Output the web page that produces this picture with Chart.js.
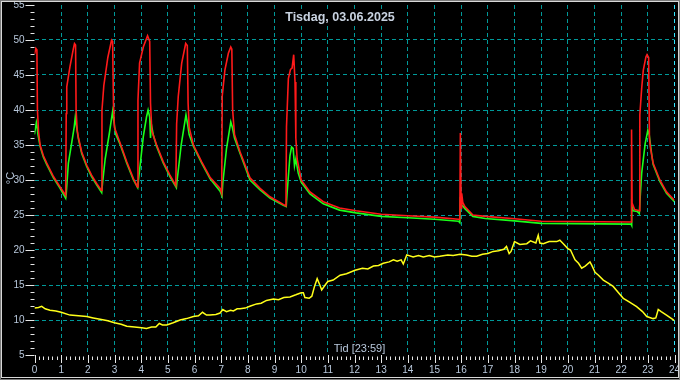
<!DOCTYPE html>
<html><head><meta charset="utf-8">
<script src="https://cdn.jsdelivr.net/npm/chart.js@4.4.0/dist/chart.umd.min.js"></script>
<style>html,body{margin:0;padding:0;background:#000;}canvas{display:block;background:#000;}</style>
</head><body>
<canvas id="c" width="680" height="380"></canvas>
<script>
// ---- data (hours, °C) ----
const titleText = 'Tisdag, 03.06.2025';
const xTitle = 'Tid [23:59]';
const yTitle = '°C';
const xTicks = [0,1,2,3,4,5,6,7,8,9,10,11,12,13,14,15,16,17,18,19,20,21,22,23,24];
const yTicks = [5,10,15,20,25,30,35,40,45,50,55];

const redT = [0,0.05,0.09,0.11,0.15,0.21,0.33,0.46,0.71,0.96,1.17,
 1.19,1.21,1.33,1.46,1.5,1.54,1.56,1.6,1.64,1.77,1.96,2.14,2.33,2.51,
 2.53,2.6,2.75,2.89,2.93,2.96,3.0,3.2,3.46,3.71,3.86,
 3.88,3.94,4.08,4.24,4.32,4.35,4.4,4.58,4.83,5.08,5.3,
 5.33,5.39,5.52,5.67,5.73,5.76,5.8,5.96,6.27,6.58,6.96,7.02,
 7.04,7.14,7.27,7.36,7.4,7.43,7.5,7.71,8.08,8.46,8.83,9.33,9.43,
 9.45,9.52,9.6,9.66,9.72,9.77,9.8,9.85,10.0,10.33,10.83,11.44,12.06,13,14,15,15.9,15.95,
 15.97,16.0,16.02,16.06,16.14,16.44,16.9,17.9,19,22.37,
 22.39,22.41,22.5,22.68,22.7,22.77,22.83,22.93,22.97,23.03,23.06,23.1,23.2,23.45,23.7,24];
const redV = [48.0,48.8,48.6,40,37,35,33.5,32.4,30.5,29.0,27.8,
 39.5,43.3,46.2,48.8,49.5,49.3,40,37.2,36.2,34.0,32.1,30.7,29.5,28.5,
 40,43.5,47.5,50.0,49.8,41,37.5,35.4,32.6,30.2,29.0,
 41.4,46.7,49.0,50.6,49.8,41,37,35.0,32.6,30.7,29.2,
 38,41.9,46.7,49.5,49.2,41,37.5,35.0,32.6,30.4,28.8,28.1,
 42,45.7,48.1,49.0,48.7,40,36.5,34.0,30.3,28.8,27.6,26.5,26.3,
 37.6,44.5,45.8,46.0,47.9,44,36,33,30.0,28.3,26.9,26.0,25.6,25.1,24.9,24.7,24.4,24.4,
 36.7,26,28.1,26.8,26.2,25.0,24.8,24.5,24.1,24.0,
 37.2,26.7,25.8,25.6,39.3,43.1,45.7,47.6,47.9,47.5,36,34.5,32.4,30.0,28.3,27.1];

const greenT = [0,0.04,0.07,0.1,0.13,0.21,0.33,0.46,0.71,0.96,1.17,
 1.19,1.27,1.39,1.49,1.53,1.56,1.64,1.77,1.96,2.14,2.33,2.52,
 2.55,2.65,2.8,2.93,2.97,3.05,3.2,3.46,3.71,3.87,
 3.9,4.08,4.2,4.26,4.32,4.35,4.38,4.45,4.58,4.83,5.08,5.32,
 5.35,5.5,5.68,5.74,5.8,5.96,6.27,6.58,6.96,7.03,
 7.06,7.2,7.36,7.42,7.5,7.71,8.08,8.46,8.83,9.33,9.44,
 9.47,9.58,9.64,9.7,9.75,9.8,9.89,10.0,10.33,10.83,11.44,12.06,13,14,15,15.9,15.95,
 15.97,16.0,16.06,16.14,16.44,16.9,17.9,19,22.37,22.39,
 22.4,22.45,22.6,22.68,22.72,22.77,22.9,23.0,23.05,23.15,23.2,23.45,23.7,24];
const greenV = [36.5,37.5,38.2,37.5,36.5,34.8,33.3,32.2,30.3,28.8,27.4,
 28,32.4,35.2,37.6,39.0,38,36.0,33.8,31.9,30.5,29.3,28.2,
 29.5,33,36.5,39.8,38.5,36.5,35.2,32.4,30.0,28.9,
 30,36.2,39,40.0,39,36,38,36.5,34.8,32.4,30.5,28.9,
 30,35,39.3,38,36.5,34.8,32.4,30.2,28.4,27.7,
 29.5,34.5,38.3,37.5,36,33.8,30.0,28.6,27.4,26.4,26.2,
 28,33.5,34.7,34.5,32,33,31.0,29.7,28.0,26.6,25.7,25.3,24.8,24.6,24.4,24.1,23.9,
 27.6,26.5,26.3,25.9,24.8,24.5,24.2,23.8,23.7,23.5,
 26.4,25.6,25.5,25.2,28,31.0,35.2,37.1,36.5,33.5,32.2,29.8,28.1,26.9];

const yellowT = [0,0.15,0.27,0.4,0.58,0.8,1,1.33,1.65,1.96,2.2,2.46,2.75,3,3.25,3.46,3.75,4.02,4.2,4.39,4.55,4.68,4.8,4.96,
 5.2,5.46,5.7,5.96,6.15,6.3,6.45,6.58,6.8,6.96,7.06,7.2,7.35,7.46,7.6,7.71,7.9,8.1,8.33,8.5,8.7,8.96,9.15,9.35,9.58,9.8,
 10.0,10.08,10.14,10.3,10.4,10.5,10.6,10.7,10.77,10.9,11.0,11.2,11.46,11.7,12.02,12.3,12.5,12.71,12.9,13.08,13.3,13.46,13.6,13.75,13.83,13.96,
 14.2,14.4,14.58,14.8,15.0,15.2,15.5,15.7,15.96,16.2,16.4,16.58,16.8,17.0,17.2,17.4,17.6,17.7,17.8,17.87,18.0,18.2,18.46,18.6,18.8,18.89,18.95,
 19.08,19.3,19.58,19.7,19.83,20.0,20.1,20.27,20.4,20.52,20.65,20.83,20.9,21.02,21.15,21.33,21.5,21.7,21.9,22.08,22.3,22.58,22.8,22.96,23.2,23.3,23.39,23.5,23.7,23.85,24];
const yellowV = [11.7,11.8,11.95,11.6,11.4,11.3,11.1,10.7,10.6,10.5,10.3,10.1,9.9,9.6,9.4,9.1,9.0,8.9,8.8,9.0,9.0,9.5,9.3,9.3,
 9.6,10.0,10.2,10.5,10.6,11.1,10.7,10.7,10.8,11.0,11.5,11.2,11.4,11.3,11.6,11.6,11.7,12.0,12.3,12.4,12.8,13.0,12.9,13.2,13.3,13.6,
 13.9,13.9,13.2,13.1,13.4,14.8,15.9,15.0,14.3,15.0,15.5,15.7,16.4,16.6,17.1,17.4,17.3,17.7,17.8,18.1,18.3,18.6,18.4,18.6,18.0,19.3,
 19.0,19.2,19.0,19.2,19.0,19.1,19.3,19.2,19.4,19.3,19.1,19.1,19.4,19.5,19.8,19.9,20.1,20.5,19.5,19.8,21.2,20.8,20.9,21.3,21.0,22.1,21.0,
 20.9,21.2,21.2,21.4,20.9,20.2,20.0,18.6,18.1,17.4,17.7,18.3,17.8,16.8,16.4,15.7,15.3,14.8,13.9,13.1,12.6,11.9,11.2,10.5,10.2,10.3,11.5,11.2,10.7,10.3,9.9];

const toXY = (t, v) => t.map((x, i) => ({x: x, y: v[i]}));

const TXT = '#b8c8dc';
const GRID = '#009a9a';

const decor = {
  id: 'decor',
  afterDraw(chart) {
    const ctx = chart.ctx, xs = chart.scales.x, ys = chart.scales.y;
    ctx.save();
    ctx.strokeStyle = '#e6e6e6';
    ctx.lineWidth = 1;
    ctx.beginPath();
    for (let v = 5; v <= 55; v++) {
      const py = Math.round(ys.getPixelForValue(v)) + 0.5;
      const len = v % 5 === 0 ? 9 : 4;
      ctx.moveTo(xs.left - len, py); ctx.lineTo(xs.left, py);
    }
    for (let i = 0; i <= 144; i++) {
      const px = Math.round(xs.getPixelForValue(i / 6)) + 0.5;
      if (i % 6 === 0) { ctx.moveTo(px, ys.bottom); ctx.lineTo(px, ys.bottom + 8); }
      else { ctx.moveTo(px, ys.bottom + 1.5); ctx.lineTo(px, ys.bottom + 5); }
    }
    ctx.stroke();

    // title with black box
    ctx.font = 'bold 12.5px "Liberation Sans", Arial, sans-serif';
    ctx.textAlign = 'center'; ctx.textBaseline = 'middle';
    let w = ctx.measureText(titleText).width;
    ctx.fillStyle = '#000';
    ctx.fillRect(340 - w / 2 - 3, 9, w + 6, 17);
    ctx.fillStyle = '#c8d2e0';
    ctx.fillText(titleText, 340, 17.5);

    // x title
    ctx.font = '11px "Liberation Sans", Arial, sans-serif';
    const cx = (xs.left + xs.right) / 2 + 5;
    w = ctx.measureText(xTitle).width;
    ctx.fillStyle = '#000';
    ctx.fillRect(cx - w / 2 - 2, 342, w + 4, 13);
    ctx.fillStyle = TXT;
    ctx.fillText(xTitle, cx, 348.5);

    // y title
    ctx.save();
    ctx.translate(11, 178);
    ctx.rotate(-Math.PI / 2);
    ctx.fillText(yTitle, 0, 0);
    ctx.restore();

    // frame
    ctx.strokeStyle = '#d8d8d8';
    ctx.strokeRect(1.5, 1.5, 677, 376);
    ctx.strokeStyle = '#7a7a7a';
    ctx.strokeRect(0.5, 0.5, 679, 379);
    ctx.restore();
  }
};

new Chart(document.getElementById('c'), {
  type: 'line',
  data: {
    datasets: [
      { label: 'red', data: toXY(redT, redV), borderColor: '#ff1a1a', borderWidth: 1.6, order: 1 },
      { label: 'green', data: toXY(greenT, greenV), borderColor: '#1aff1a', borderWidth: 1.6, order: 2 },
      { label: 'yellow', data: toXY(yellowT, yellowV), borderColor: '#ffff1a', borderWidth: 1.5, order: 3 }
    ]
  },
  options: {
    responsive: false,
    animation: false,
    events: [],
    parsing: false,
    elements: { point: { radius: 0 }, line: { tension: 0 } },
    layout: { padding: { top: 5, right: 5.5, left: 0, bottom: 0 } },
    plugins: { legend: { display: false }, tooltip: { enabled: false }, title: { display: false } },
    scales: {
      x: {
        type: 'linear', min: 0, max: 24,
        afterFit: s => { s.height = 25; s.paddingLeft = 0; s.paddingRight = 0; },
        afterBuildTicks: s => { s.ticks = xTicks.map(v => ({ value: v })); },
        ticks: { autoSkip: false, maxRotation: 0, padding: 9, color: TXT,
                 font: { family: '"Liberation Sans", Arial, sans-serif', size: 10 } },
        border: { display: false, dash: [4, 3] },
        grid: { drawTicks: false, lineWidth: 1,
                color: c => c.tick && c.tick.value === 0 ? 'rgba(0,0,0,0)' : (c.tick && c.tick.value === 24 ? '#33e6ff' : GRID) }
      },
      y: {
        type: 'linear', min: 5, max: 55,
        afterFit: s => { s.width = 34.5; s.paddingTop = 0; s.paddingBottom = 0; },
        afterBuildTicks: s => { s.ticks = yTicks.map(v => ({ value: v })); },
        ticks: { padding: 10, color: TXT,
                 font: { family: '"Liberation Sans", Arial, sans-serif', size: 10 } },
        border: { display: false, dash: [4, 3] },
        grid: { drawTicks: false, lineWidth: 1,
                color: c => c.tick && (c.tick.value === 5 || c.tick.value === 55) ? 'rgba(0,0,0,0)' : GRID }
      }
    }
  },
  plugins: [decor]
});
</script>
</body></html>
